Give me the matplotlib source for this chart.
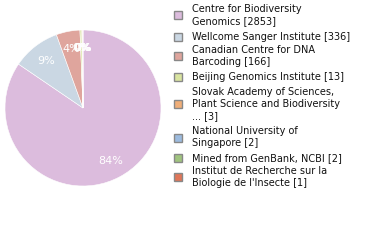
import matplotlib
matplotlib.use('Agg')
import matplotlib.pyplot as plt
from matplotlib.patches import Rectangle

# data
labels = [
    'Centre for Biodiversity\nGenomics [2853]',
    'Wellcome Sanger Institute [336]',
    'Canadian Centre for DNA\nBarcoding [166]',
    'Beijing Genomics Institute [13]',
    'Slovak Academy of Sciences,\nPlant Science and Biodiversity\n... [3]',
    'National University of\nSingapore [2]',
    'Mined from GenBank, NCBI [2]',
    'Institut de Recherche sur la\nBiologie de l\'Insecte [1]',
]
counts = [2853, 336, 166, 13, 3, 2, 2, 1]
colors = ['#dcbcdd', '#cad7e3', '#dfa59d', '#d9e4a0', '#f0ae78',
          '#9cbbdf', '#a0c47f', '#df7658']

fig = plt.figure(figsize=(3.8, 2.4), dpi=100)

# pie (percentages truncated, like the original)
ax = fig.add_axes([5 / 380, 1 - 186 / 240, 156 / 380, 156 / 240])
wedges, texts, autotexts = ax.pie(counts, colors=colors, startangle=90,
                                  counterclock=False,
                                  autopct=lambda p: '%d%%' % int(p),
                                  pctdistance=0.77, radius=1,
                                  wedgeprops=dict(linewidth=0.4, edgecolor='white'))
for t in autotexts:
    t.set_color('white')
    t.set_fontsize(8)
ax.set_xlim(-1, 1)
ax.set_ylim(-1, 1)
ax.set_aspect('equal')
ax.axis('off')

# legend (block centres in px from top)
centres = [15, 37, 56, 77, 104, 137.5, 158, 177]
for lab, col, yc in zip(labels, colors, centres):
    y = 1 - yc / 240
    fig.patches.append(Rectangle((174 / 380, y - 4 / 240), 8 / 380, 8 / 240,
                                 transform=fig.transFigure, facecolor=col,
                                 edgecolor='#888888', linewidth=1))
    fig.text(192 / 380, y, lab, fontsize=7, va='center', ha='left',
             color='#111111', linespacing=1.25)

fig.savefig('out.png', dpi=100)
